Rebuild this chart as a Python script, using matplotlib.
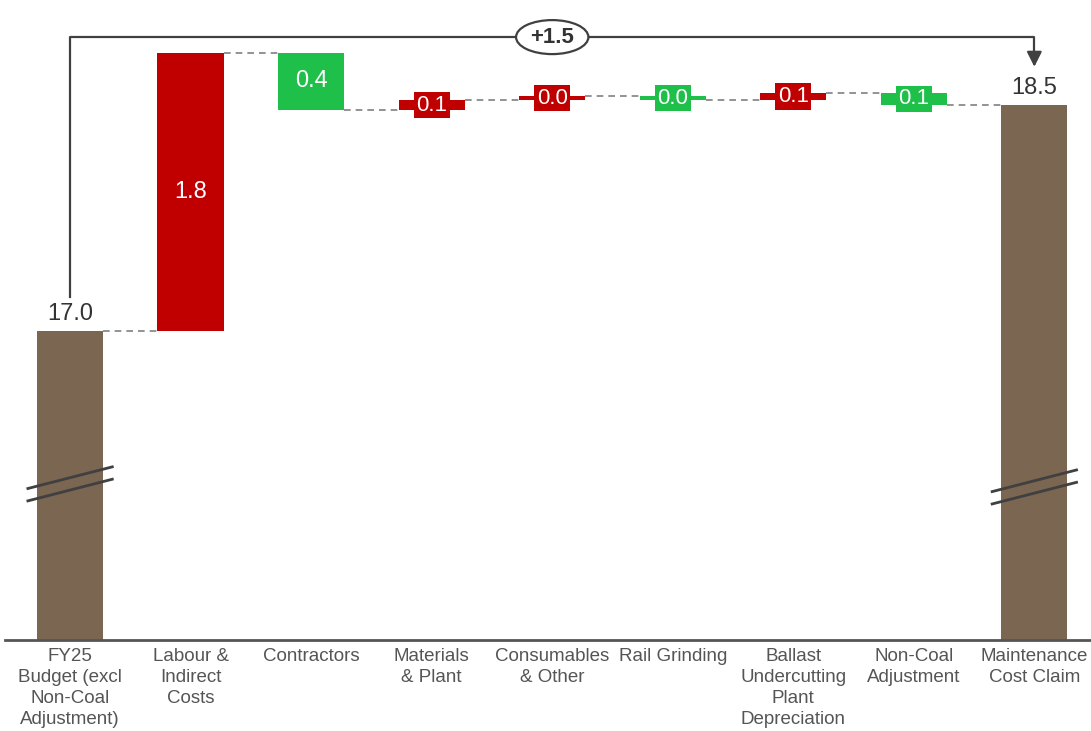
import matplotlib
matplotlib.use('Agg')
import matplotlib.pyplot as plt
from matplotlib.patches import Ellipse
import numpy as np

plt.rcParams['font.family'] = ['Liberation Sans', 'DejaVu Sans']

# data
categories = ['FY25\nBudget (excl\nNon-Coal\nAdjustment)', 'Labour &\nIndirect\nCosts', 'Contractors',
              'Materials\n& Plant', 'Consumables\n& Other', 'Rail Grinding',
              'Ballast\nUndercutting\nPlant\nDepreciation', 'Non-Coal\nAdjustment',
              'Maintenance\nCost Claim']
start_value = 17.0
deltas = [1.8, -0.37, 0.06, 0.03, -0.03, 0.05, -0.08]
end_value = start_value + sum(deltas)

RED = '#C00000'
GREEN = '#1FC04A'
BROWN = '#7A6651'
GREY = '#808080'
DARK = '#404040'

fig = plt.figure(figsize=(10.91, 7.31), dpi=100)
ax = fig.add_axes([5 / 1091, 91 / 731, 1 - 5 / 1091, 640 / 731])
ax.set_xlim(-0.54, 8.47)
ax.set_ylim(15.0, 19.14)

x = np.arange(len(categories))
w = 0.55
base = 15.0

# totals
ax.bar(x[0], start_value - base, w, bottom=base, color=BROWN, zorder=2)
ax.bar(x[-1], end_value - base, w, bottom=base, color=BROWN, zorder=2)
ax.text(x[0], start_value + 0.04, f'{start_value:.1f}', ha='center', va='bottom', fontsize=17, color='#333333')
ax.text(x[-1], end_value + 0.04, f'{end_value:.1f}', ha='center', va='bottom', fontsize=17, color='#333333')

# deltas
levels = [start_value]
for d in deltas:
    levels.append(levels[-1] + d)

for i, d in enumerate(deltas):
    xi = x[i + 1]
    lo = min(levels[i], levels[i + 1])
    col = RED if d > 0 else GREEN
    ax.bar(xi, abs(d), w, bottom=lo, color=col, zorder=2)
    mid = lo + abs(d) / 2
    lab = f'{abs(d):.1f}'
    if abs(d) > 0.2:
        ax.text(xi, mid, lab, ha='center', va='center', fontsize=17, color='white', zorder=4)
    else:
        ax.text(xi, mid, lab, ha='center', va='center', fontsize=16, color='white', zorder=4,
                bbox=dict(boxstyle='square,pad=0.12', fc=col, ec='none'))

# connectors
for i in range(len(levels)):
    ax.plot([x[i] + w / 2, x[i + 1] - w / 2], [levels[i], levels[i]], ls=(0, (4, 3)),
            color=GREY, lw=1.2, zorder=1)

# axis break marks
for xi, yb in [(x[0], 16.05), (x[-1], 16.03)]:
    for off in (0, -0.08):
        ax.plot([xi - 0.35, xi + 0.35], [yb + off - 0.07, yb + off + 0.07], color=DARK, lw=2,
                zorder=3, clip_on=False)

# top bracket
top_y = max(levels) + 0.1
ax.plot([x[0], x[0], x[-1], x[-1]], [start_value + 0.22, top_y, top_y, end_value + 0.3],
        color=DARK, lw=1.6, zorder=3, clip_on=False)
ax.annotate('', xy=(x[-1], end_value + 0.23), xytext=(x[-1], end_value + 0.32),
            arrowprops=dict(arrowstyle='-|>,head_width=0.45,head_length=0.9', color=DARK, lw=1.6))
mid_x = (x[0] + x[-1]) / 2
ax.add_patch(Ellipse((mid_x, top_y), 0.6, 0.22, fc='white', ec=DARK, lw=1.6, zorder=4, clip_on=False))
ax.text(mid_x, top_y, f'+{end_value - start_value:.1f}', ha='center', va='center', fontsize=16,
        fontweight='bold', color='#333333', zorder=5)

ax.set_xticks(x)
ax.set_xticklabels(categories, fontsize=13.5, color='#555555', linespacing=1.3)
ax.tick_params(axis='x', length=0, pad=6)
ax.set_yticks([])
for s in ['left', 'right', 'top']:
    ax.spines[s].set_visible(False)
ax.spines['bottom'].set_color('#555555')
ax.spines['bottom'].set_linewidth(2)

fig.savefig('out.png', dpi=100)
